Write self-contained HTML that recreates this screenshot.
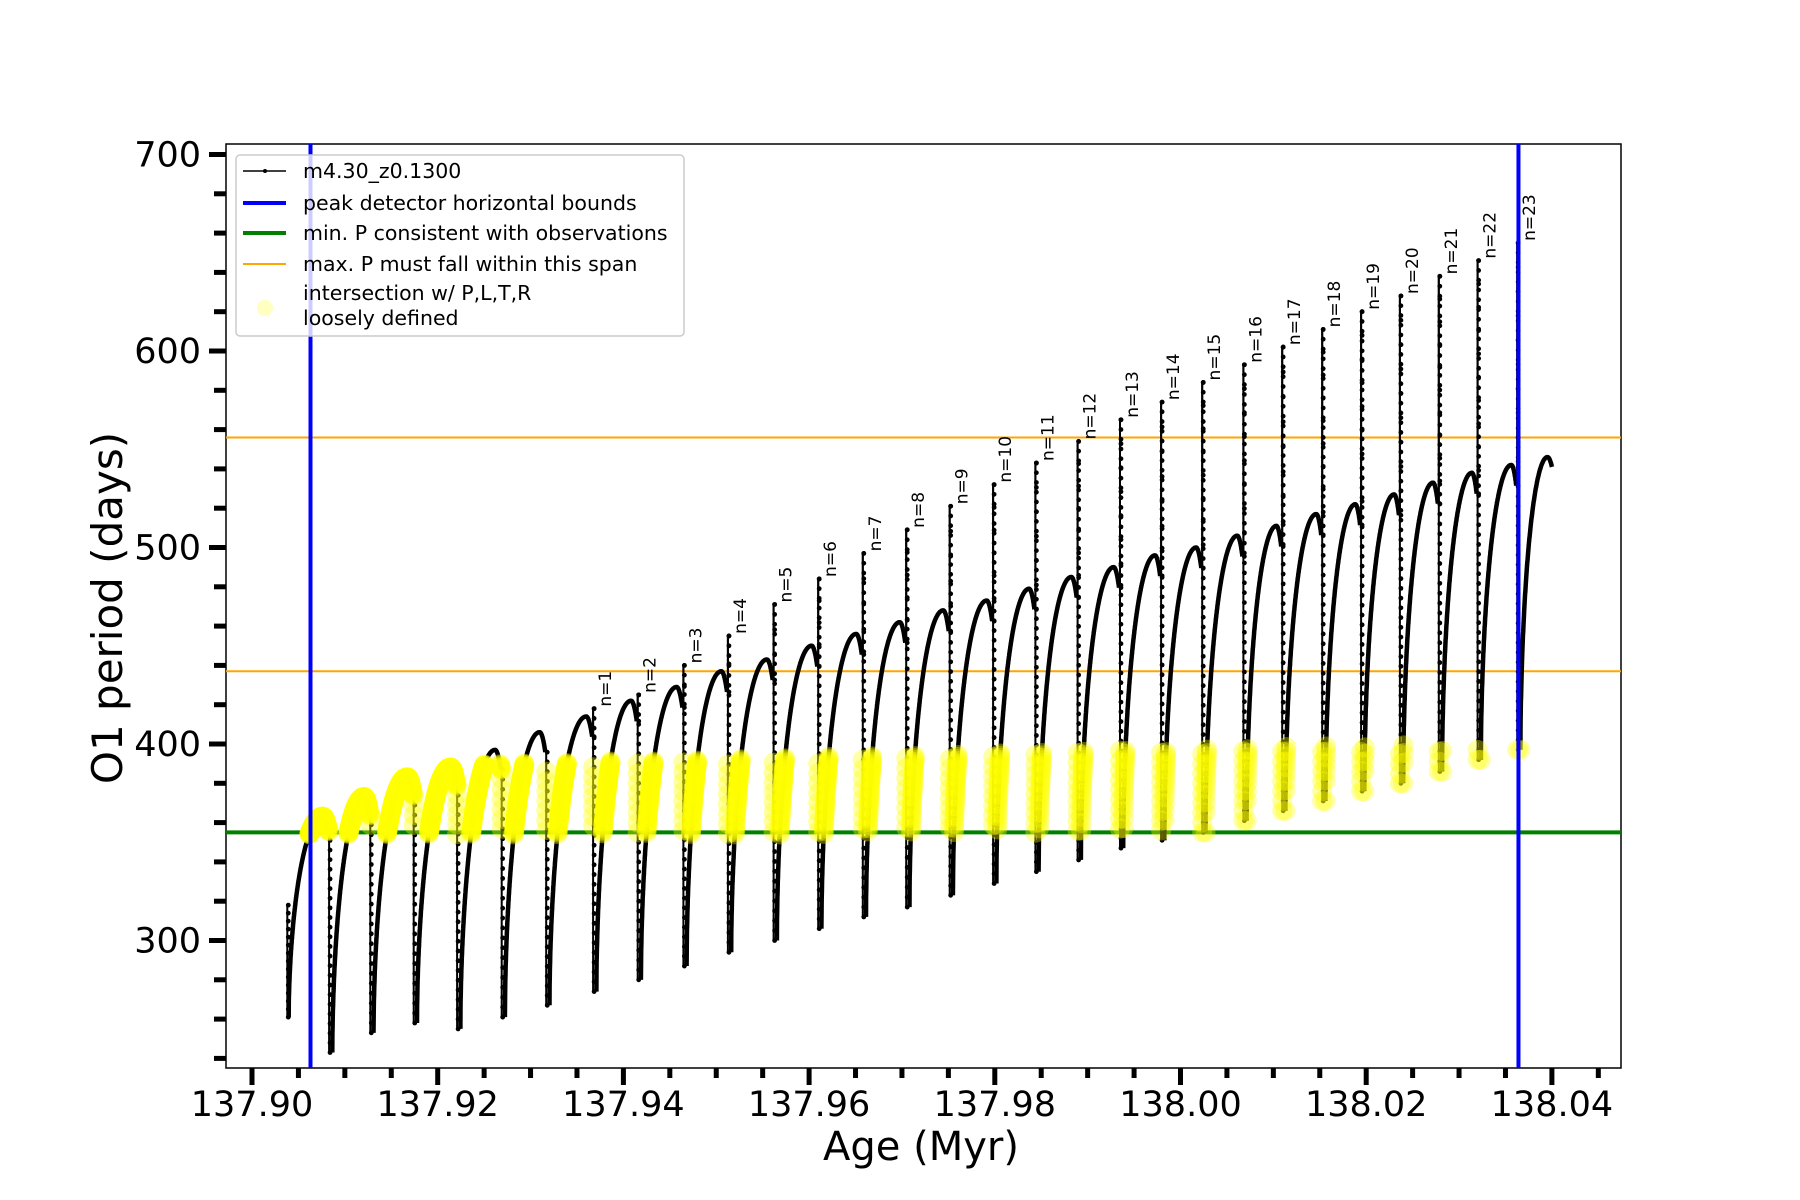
<!DOCTYPE html>
<html><head><meta charset="utf-8"><style>
html,body{margin:0;padding:0;background:#fff;}
svg{display:block;font-family:"DejaVu Sans","Liberation Sans",sans-serif;}
</style></head><body>
<svg id="chart" width="1800" height="1200" viewBox="0 0 1800 1200" xmlns="http://www.w3.org/2000/svg">
<rect x="0" y="0" width="1800" height="1200" fill="#fff"/>
<g id="plot"></g>
</svg>
<script>
// ---- data ----
const startAge = 137.9038;
const startTopValue = 318;
const startMinValue = 261;
const pulseAges = [137.9083,137.91274,137.91742,137.92209,137.92689,137.93169,
 137.93674,137.94154,137.94646,137.95126,137.95618,137.96098,137.96578,137.97046,137.97514,
 137.97982,137.98437,137.98892,137.99348,137.99791,138.00234,138.00677,138.01095,138.01526,
 138.01945,138.02363,138.02782,138.03200,138.03626];
const pulseLabels = ["","","","","","","n=1","n=2","n=3","n=4","n=5","n=6","n=7","n=8","n=9","n=10",
 "n=11","n=12","n=13","n=14","n=15","n=16","n=17","n=18","n=19","n=20","n=21","n=22","n=23"];
const pulsePeaks = [0,0,0,0,0,0,418,425,440,455,471,484,497,509,521,532,543,554,565,574,584,593,602,611,620,628,638,646,655];
const pulseMins = [243,253,258,255,261,267,274,280,287,294,300,306,312,317,323,329,335,341,347,351,355,361,366,371,376,380,386,392,397];
const cycleTops = [363,373,383,388,397,406,414,422,429,437,443,450,456,462,468,473,479,485,490,496,500,506,511,517,522,527,533,538,542,546];
const endAge = 138.0400;
const endValue = 541;
const peakBounds = [137.9063, 138.0364];
const minPeriod = 355;
const maxPeriodSpan = [437, 556];
const yellowUpper = [388, 401];
const xTicks = [137.90,137.92,137.94,137.96,137.98,138.00,138.02,138.04];
const xTickLabels = ["137.90","137.92","137.94","137.96","137.98","138.00","138.02","138.04"];
const yTicks = [300,400,500,600,700];
const yTickLabels = ["300","400","500","600","700"];

// ---- axes ----
const L=226,R=1621,T=144,B=1068;
const X = a => 252 + (a-137.90)/0.02*185.7;
const Y = v => 744 - (v-400)*1.965;
const NS="http://www.w3.org/2000/svg";
const plot=document.getElementById('plot');
function mk(tag,attrs,parent){const e=document.createElementNS(NS,tag);for(const k in attrs)e.setAttribute(k,attrs[k]);(parent||plot).appendChild(e);return e;}

const risePaths=[]; const vertPaths=[]; const allPts=[]; const vertPts=[];
function rise(a0,a1,m,top,endV){
  const n=300; const pts=[];
  for(let i=0;i<=n;i++){
    const t=i/n; const a=a0+(a1-a0)*t; let v;
    const tp=0.86;
    if(t<=tp){const u=t/tp; v=m+(top-m)*Math.pow(1-(1-u)*(1-u),0.55);}
    else{const w=(t-tp)/(1-tp); v=top-(top-endV)*w*w;}
    pts.push([a,v]); allPts.push([a,v]);
  }
  risePaths.push(pts);
}
function vertical(a,v0,v1,k){const pts=[];for(let i=0;i<=k;i++){const v=v0+(v1-v0)*i/k;pts.push([a,v]);vertPts.push([a,v]);allPts.push([a,v]);}vertPaths.push(pts);}
vertical(startAge,startTopValue,startMinValue,14);
let prevAge=startAge+0.00015, prevMin=startMinValue;
for(let i=0;i<pulseAges.length;i++){
  const top=cycleTops[i];
  const endV=top-(top-prevMin)*0.07;
  rise(prevAge,pulseAges[i]-0.0001,prevMin,top,endV);
  const pk=pulsePeaks[i]||endV;
  if(pk>endV) vertical(pulseAges[i],endV,pk,Math.round((pk-endV)/12));
  vertical(pulseAges[i],pk,pulseMins[i],Math.round((pk-pulseMins[i])/5));
  prevAge=pulseAges[i]+0.00035; prevMin=pulseMins[i];
}
rise(prevAge,endAge,prevMin,cycleTops[cycleTops.length-1],endValue);

const frame=mk('rect',{x:L,y:T,width:R-L,height:B-T,fill:'none',stroke:'#000','stroke-width':1.5});



const gl=mk('line',{x1:L,x2:R,y1:Y(minPeriod),y2:Y(minPeriod),stroke:'#008000','stroke-width':4});


maxPeriodSpan.forEach((v,i)=>{
  const ol=mk('line',{x1:L,x2:R,y1:Y(v),y2:Y(v),stroke:'#ffa500','stroke-width':2});
  
  
});

const sg=mk('g',{fill:'none',stroke:'#000','stroke-linejoin':'round'});


const toStr=pts=>pts.map(p=>X(p[0]).toFixed(1)+','+Y(p[1]).toFixed(1)).join(' ');
risePaths.forEach(p=>mk('polyline',{points:toStr(p),'stroke-width':4.5},sg));
vertPaths.forEach(p=>mk('polyline',{points:toStr(p),'stroke-width':2},sg));
const dots=mk('g',{fill:'#000'});


vertPts.forEach(p=>{mk('circle',{cx:X(p[0])+1,cy:Y(p[1]),r:2.4},dots);});

const yg=mk('g',{fill:'#ffff00','fill-opacity':0.35});


const a0=pulseAges[0],a1=pulseAges[pulseAges.length-1];
allPts.forEach(p=>{
  const ub=yellowUpper[0]+(yellowUpper[1]-yellowUpper[0])*(p[0]-a0)/(a1-a0);
  if(p[1]>=minPeriod-1 && p[1]<=ub){
    mk('circle',{cx:X(p[0]),cy:Y(p[1]),r:10},yg);
  }
});

peakBounds.forEach((a,i)=>{
  const bl=mk('line',{x1:X(a),x2:X(a),y1:T,y2:B,stroke:'#0000ff','stroke-width':4});
  
  
});

pulseAges.forEach((a,i)=>{
  if(!pulseLabels[i])return;
  const x=X(a)+18, y=Y(pulsePeaks[i])-2;
  const t=mk('text',{x:x,y:y,transform:`rotate(-90 ${x} ${y})`,'font-size':17,fill:'#000'});
  t.textContent=pulseLabels[i];
  
  
});

for(let k=0;k<=29;k++){
  const a=137.90+k*0.005; const x=X(a); if(x<L-1||x>R)continue;
  const major=k%4===0;
  const tk=mk('line',{x1:x,x2:x,y1:B,y2:B+(major?17:10),stroke:'#000','stroke-width':5});
  
  
}
xTicks.forEach((a,i)=>{
  const t=mk('text',{x:X(a),y:1116,'text-anchor':'middle','font-size':35,fill:'#000'});
  t.textContent=xTickLabels[i];
  
  
});
for(let v=240;v<=700;v+=20){
  const y=Y(v); const major=v%100===0;
  const tk=mk('line',{x1:L-(major?17:12),x2:L,y1:y,y2:y,stroke:'#000','stroke-width':5});
  
  
}
yTicks.forEach((v,i)=>{
  const t=mk('text',{x:201,y:Y(v)+12,'text-anchor':'end','font-size':35,fill:'#000'});
  t.textContent=yTickLabels[i];
  
  
});
const xt=mk('text',{x:921,y:1160,'text-anchor':'middle','font-size':40,fill:'#000'});
xt.textContent='Age (Myr)';


const yt=mk('text',{x:122,y:608,'text-anchor':'middle','font-size':42,fill:'#000',transform:'rotate(-90 122 608)'});
yt.textContent='O1 period (days)';



const lg=mk('g',{});


mk('rect',{x:236,y:155,width:448,height:181,rx:4,fill:'#fff','fill-opacity':0.8,stroke:'#cccccc','stroke-width':1.5},lg);
const items=[
 {y:171,color:'#000',w:1.5,label:'m4.30_z0.1300',name:'legend-entry-model'},
 {y:203,color:'#0000ff',w:4,label:'peak detector horizontal bounds',name:'legend-entry-peak-bounds'},
 {y:233,color:'#008000',w:4,label:'min. P consistent with observations',name:'legend-entry-min-period'},
 {y:264,color:'#ffa500',w:2,label:'max. P must fall within this span',name:'legend-entry-max-period'}];
items.forEach(it=>{
  const g=mk('g',{},lg);
  
  
  mk('line',{x1:243,x2:286,y1:it.y,y2:it.y,stroke:it.color,'stroke-width':it.w},g);
  const t=mk('text',{x:303,y:it.y+7,'font-size':20.5,fill:'#000'},g);
  t.textContent=it.label;
});
mk('circle',{cx:265,cy:171,r:2},lg);
const ge=mk('g',{},lg);


mk('circle',{cx:265,cy:308,r:8,fill:'#ffff00','fill-opacity':0.25},ge);
const t1=mk('text',{x:303,y:300,'font-size':20.5,fill:'#000'},ge); t1.textContent='intersection w/ P,L,T,R';
const t2=mk('text',{x:303,y:325,'font-size':20.5,fill:'#000'},ge); t2.textContent='loosely defined';
</script>
</body></html>
